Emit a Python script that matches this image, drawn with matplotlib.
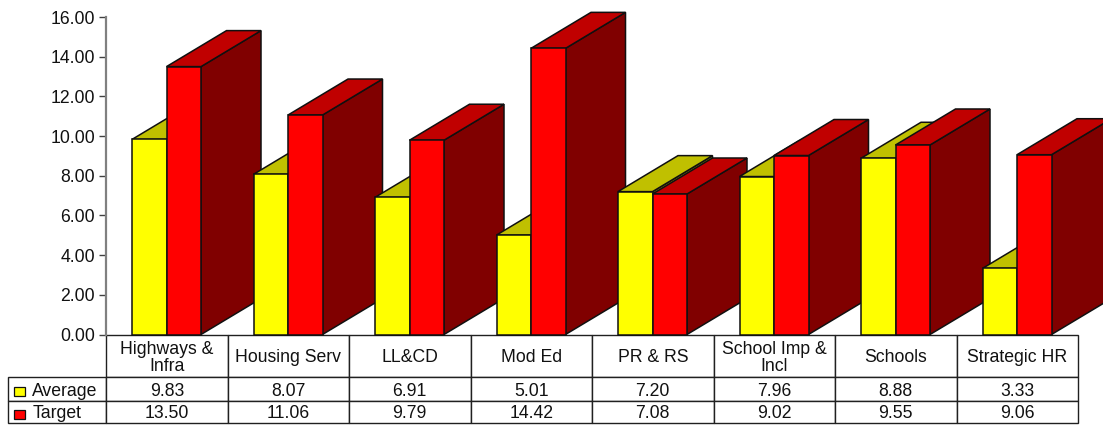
"""Столбчатая псевдо-3D диаграмма с таблицей данных под осью."""
from matplotlib import pyplot as plt
from matplotlib.patches import Polygon, Rectangle

plt.rcParams["font.family"] = ["Liberation Sans", "DejaVu Sans"]

categories = ["Highways &\nInfra", "Housing Serv", "LL&CD", "Mod Ed", "PR & RS",
              "School Imp &\nIncl", "Schools", "Strategic HR"]
average = [9.83, 8.07, 6.91, 5.01, 7.20, 7.96, 8.88, 3.33]
target = [13.50, 11.06, 9.79, 14.42, 7.08, 9.02, 9.55, 9.06]
y_ticks = [0, 2, 4, 6, 8, 10, 12, 14, 16]

FONT_SIZE = 12.7
EDGE = "#101010"
AXIS_GREY = "#808080"

# размеры в пикселях итогового рисунка
AX_LEFT, AX_RIGHT, AX_TOP, AX_BOTTOM = 106, 1078, 17, 334.5
WIDTH, HEIGHT = 1103, 425
AX_W = AX_RIGHT - AX_LEFT
AX_H = AX_BOTTOM - AX_TOP
GROUP_PX = AX_W / len(categories)


def _draw_bar(axis, left, width, value, colors):
    """Нарисовать один столбец: боковая грань, верх и перед."""
    front, top, side = colors
    depth_x = 60 / GROUP_PX
    depth_y = 36 / (AX_H / 16)
    right = left + width
    axis.add_patch(Polygon([(right, 0), (right + depth_x, depth_y),
                            (right + depth_x, value + depth_y), (right, value)],
                           facecolor=side, edgecolor=EDGE, lw=1.1, clip_on=False))
    axis.add_patch(Polygon([(left, value), (right, value),
                            (right + depth_x, value + depth_y),
                            (left + depth_x, value + depth_y)],
                           facecolor=top, edgecolor=EDGE, lw=1.1, clip_on=False))
    axis.add_patch(Rectangle((left, 0), width, value, facecolor=front,
                             edgecolor=EDGE, lw=1.1, clip_on=False))


fig = plt.figure(figsize=(WIDTH / 100, HEIGHT / 100), dpi=100)
ax = fig.add_axes([AX_LEFT / WIDTH, 1 - AX_BOTTOM / HEIGHT,
                   AX_W / WIDTH, AX_H / HEIGHT])
ax.set_xlim(0, len(categories))
ax.set_ylim(0, 16)

bar_width = 34.5 / GROUP_PX
bar_start = 26 / GROUP_PX
for i in range(len(categories)):
    _draw_bar(ax, i + bar_start, bar_width, average[i],
              ("#FFFF00", "#C0C000", "#808000"))
    _draw_bar(ax, i + bar_start + bar_width, bar_width, target[i],
              ("#FF0000", "#C00000", "#800000"))

for name in ("top", "right", "bottom"):
    ax.spines[name].set_visible(False)
ax.spines["left"].set_color(AXIS_GREY)
ax.spines["left"].set_linewidth(1.6)
ax.set_xticks([])
ax.set_yticks(y_ticks, [f"{t:.2f}" for t in y_ticks], fontsize=FONT_SIZE,
              color="#111111")
ax.tick_params("y", length=5, width=1, color="#404040", pad=3)

# таблица данных: строка категорий и две строки значений
heights_px = {0: 42.5, 1: 24, 2: 22}
table_h = sum(heights_px.values()) / AX_H
table = ax.table(cellText=[[f"{v:.2f}" for v in average],
                           [f"{v:.2f}" for v in target]],
                 rowLabels=["Average", "Target"],
                 colLabels=categories,
                 cellLoc="center", rowLoc="left",
                 colWidths=[1 / len(categories)] * len(categories),
                 bbox=[0, -table_h, 1, table_h])
table.auto_set_font_size(False)
table.set_fontsize(FONT_SIZE)
# ширина столбца подписей считается автоматически и зависит от PAD
for (row, col), cell in table.get_celld().items():
    cell.set_edgecolor("#202020")
    cell.set_linewidth(1.0)
    cell.set_height(heights_px[row] / AX_H)
    cell.get_text().set_color("#111111")
    cell.get_text().set_linespacing(1.05)
    cell.get_text().set_verticalalignment("center_baseline")
    if col == -1:
        cell.PAD = 0.25

# значки легенды в подписях строк
for y_px, color in ((391.5, "#FFFF00"), (414, "#FF0000")):
    fig.add_artist(Rectangle((13.5 / WIDTH, 1 - (y_px + 4.5) / HEIGHT),
                             11.5 / WIDTH, 9 / HEIGHT, facecolor=color,
                             edgecolor=EDGE, lw=0.9,
                             transform=fig.transFigure))

fig.savefig("out.png", dpi=100)
